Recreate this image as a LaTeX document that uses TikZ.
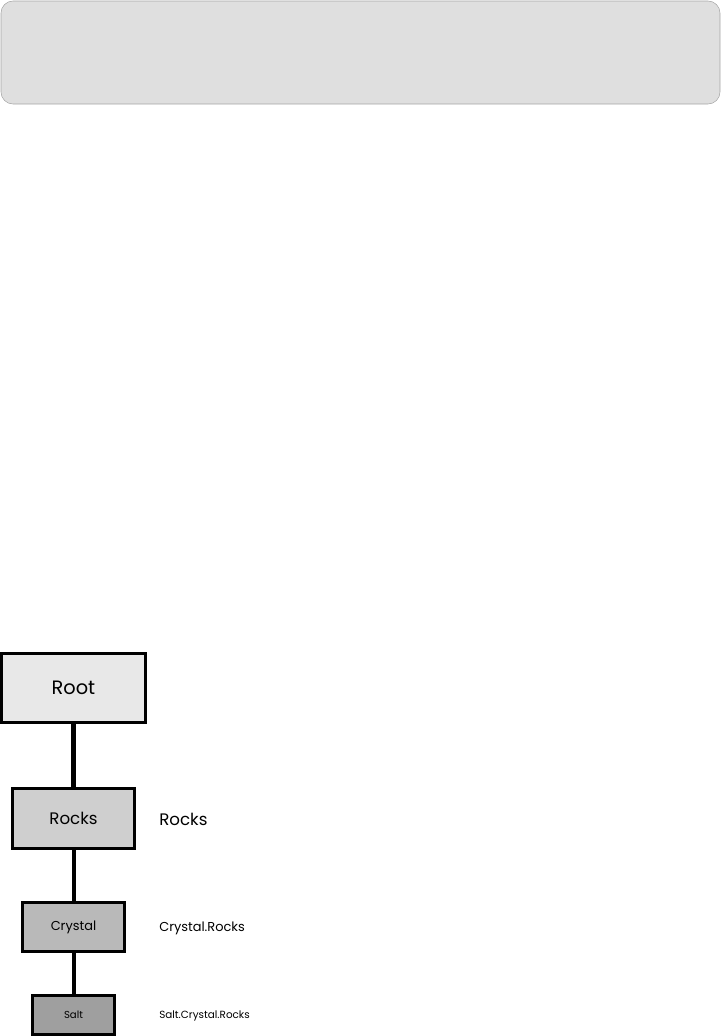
\documentclass[tikz,border=0pt]{standalone}
\usepackage{fontspec}
\setmainfont{Poppins}
\usepackage{tikz}
\usetikzlibrary{positioning}

\begin{document}
\begin{tikzpicture}[
  x=0.75pt, y=-0.75pt,
  lvlbox/.style={draw=black, line width=2.2pt, inner sep=0pt, align=center},
  pathlbl/.style={anchor=west, inner sep=0pt},
  link/.style={line width=3pt},
]
  \useasboundingbox (0,0) rectangle (722,1036);
  % banner at the top
  \draw[fill=gray!25, draw=gray!70, rounded corners=9pt] (1,1) rectangle (720,104);
  % hierarchy boxes
  \node[lvlbox, fill=gray!18, minimum width=108pt, minimum height=52pt, font=\fontsize{14.5}{16}\selectfont] (root) at (73.5,688) {Root};
  \node[lvlbox, fill=gray!38, minimum width=92pt, minimum height=45pt, font=\fontsize{12.5}{14}\selectfont] (rocks) at (73.5,818.5) {Rocks};
  \node[lvlbox, fill=gray!55, minimum width=77pt, minimum height=37pt, font=\fontsize{9.7}{11}\selectfont] (crystal) at (73.5,927) {Crystal};
  \node[lvlbox, fill=gray!75, minimum width=61pt, minimum height=29pt, font=\fontsize{7.6}{9}\selectfont] (salt) at (73.5,1015) {Salt};
  \draw[link, line width=3.8pt] (root) -- (rocks);
  \draw[link] (rocks) -- (crystal);
  \draw[link] (crystal) -- (salt);
  % full names
  \node[pathlbl, font=\fontsize{12.5}{14}\selectfont] (nrocks) at (159,819) {Rocks};
  \node[pathlbl, font=\fontsize{9.7}{11}\selectfont] (ncrystal) at (159,928) {Crystal.Rocks};
  \node[pathlbl, font=\fontsize{7.8}{9}\selectfont] (nsalt) at (159,1016) {Salt.Crystal.Rocks};
\end{tikzpicture}
\end{document}
